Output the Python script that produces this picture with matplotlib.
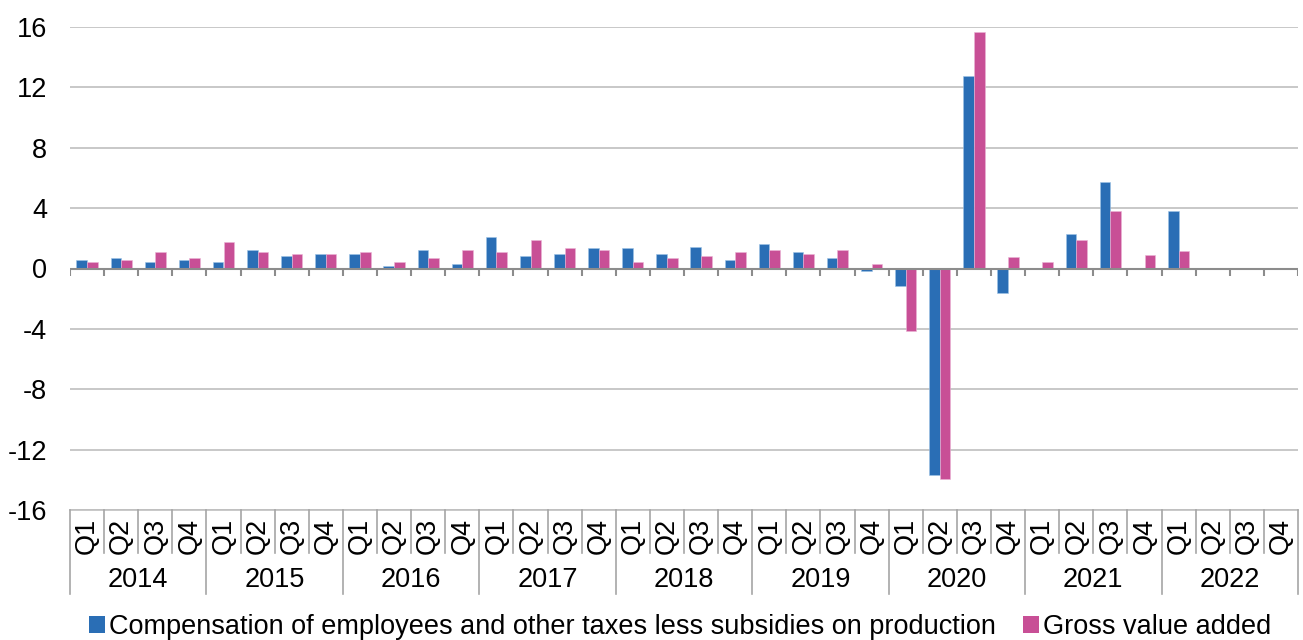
import matplotlib
matplotlib.use("Agg")
import matplotlib.pyplot as plt
import numpy as np
from matplotlib.patches import Patch

plt.rcParams['font.family'] = ['Liberation Sans', 'DejaVu Sans']
plt.rcParams['axes.unicode_minus'] = False

years = ['2014', '2015', '2016', '2017', '2018', '2019', '2020', '2021', '2022']
quarters = ['Q1', 'Q2', 'Q3', 'Q4']

# compensation of employees and other taxes less subsidies on production
comp = [0.57, 0.70, 0.43, 0.57,
        0.43, 1.23, 0.82, 0.98,
        0.98, 0.18, 1.23, 0.32,
        2.11, 0.82, 0.95, 1.34,
        1.34, 0.95, 1.45, 0.57,
        1.61, 1.09, 0.70, -0.18,
        -1.14, -13.7, 12.75, -1.61,
        0.02, 2.30, 5.70, 0.02,
        3.82, np.nan, np.nan, np.nan]
# gross value added
gva = [0.43, 0.57, 1.11, 0.70,
       1.73, 1.11, 0.98, 0.98,
       1.11, 0.43, 0.70, 1.23,
       1.11, 1.86, 1.34, 1.23,
       0.43, 0.70, 0.82, 1.11,
       1.23, 0.95, 1.23, 0.30,
       -4.15, -13.95, 15.65, 0.77,
       0.40, 1.92, 3.82, 0.91,
       1.17, np.nan, np.nan, np.nan]

blue = '#2A6EB5'
pink = '#C84F96'
fs = 19.5

fig = plt.figure(figsize=(13.03, 6.4), dpi=100)
ax = fig.add_axes([70 / 1303, 1 - 510 / 640, 1228 / 1303, 483 / 640])

n = len(comp)
x = np.arange(n)
w = 0.31
ax.bar(x - w / 2, comp, w, color=blue, edgecolor='#9DC3E6', linewidth=0.4, zorder=3)
ax.bar(x + w / 2, gva, w, color=pink, edgecolor='#EBB5D5', linewidth=0.4, zorder=3)

ax.set_xlim(-0.5, n - 0.5)
ax.set_ylim(-16, 16)
ax.set_yticks(np.arange(-16, 17, 4))
ax.set_yticklabels([str(v) for v in range(-16, 17, 4)], fontsize=fs)
ax.tick_params(axis='y', length=0, pad=16.5)
ax.set_xticks([])
for s in ax.spines.values():
    s.set_visible(False)
ax.grid(axis='y', color='#BFBFBF', linewidth=1.2, zorder=0)
ax.set_axisbelow(True)

# zero line with small ticks at quarter boundaries
ax.axhline(0, color='#8C8C8C', linewidth=1.5, zorder=4)
ax.vlines(np.arange(n + 1) - 0.5, -0.5, 0, color='#8C8C8C', linewidth=1.5, zorder=4)

# category axis below the plot
tr = ax.get_xaxis_transform()
ax.plot([-0.5, n - 0.5], [0, 0], transform=tr, color='#BFBFBF', lw=1.2, clip_on=False)
for i in range(n + 1):
    bottom = -0.174 if i % 4 == 0 else -0.089
    ax.plot([i - 0.5, i - 0.5], [0, bottom], transform=tr, color='#A6A6A6',
            lw=1.2, clip_on=False)
for i in range(n):
    ax.text(i, -0.053, quarters[i % 4], transform=tr, rotation=90, ha='center',
            va='center', fontsize=fs)
for k, yr in enumerate(years):
    ax.text(4 * k + 1.5, -0.145, yr, transform=tr, ha='center', va='center', fontsize=fs)

handles = [Patch(facecolor=blue, edgecolor='none'), Patch(facecolor=pink, edgecolor='none')]
labels = ['Compensation of employees and other taxes less subsidies on production',
          'Gross value added']
fig.legend(handles, labels, loc='center', bbox_to_anchor=(680 / 1303, 1 - 627 / 640),
           ncol=2, frameon=False, fontsize=fs, handlelength=0.6, handleheight=0.6,
           handletextpad=0.15, columnspacing=1.0, borderaxespad=0)

fig.savefig('out.png', dpi=100)
